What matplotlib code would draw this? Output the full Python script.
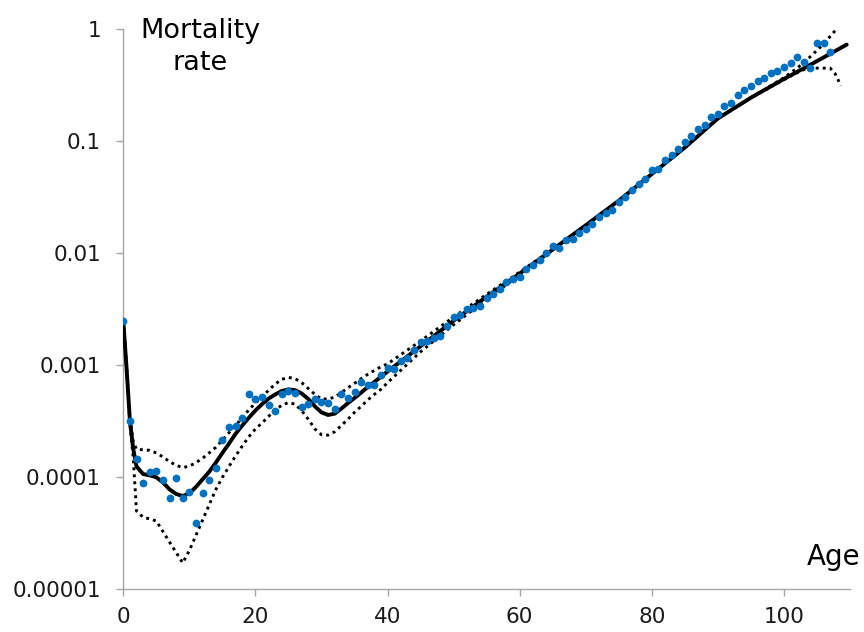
import matplotlib
matplotlib.use("Agg")
import matplotlib.pyplot as plt
from matplotlib.ticker import FixedLocator, FixedFormatter, NullLocator

# Observed death rates by single year of age
ages = list(range(0, 108))
observed = [
    0.0025, 0.000318, 0.000147, 0.000089, 0.000111, 0.000115, 0.0000955, 0.0000648,
    0.000098, 0.0000648, 0.000074, 0.000039, 0.0000725, 0.000094, 0.000122, 0.000214,
    0.000279, 0.000285, 0.000336, 0.000552, 0.0005, 0.000523, 0.000446, 0.000389,
    0.000552, 0.000589, 0.000563, 0.000423, 0.000454, 0.000505, 0.000467, 0.000457,
    0.00041, 0.000552, 0.000511, 0.000573, 0.000706, 0.000665, 0.00067, 0.000815,
    0.000944, 0.000918, 0.0011, 0.00116, 0.00136, 0.00163, 0.00166, 0.00175,
    0.00184, 0.00226, 0.00268, 0.00283, 0.00318, 0.00325, 0.0034, 0.00396,
    0.00433, 0.0048, 0.0055, 0.00589, 0.0061, 0.00722, 0.00784, 0.00874,
    0.0100, 0.0116, 0.01125, 0.01315, 0.01355, 0.0153, 0.0164, 0.0182,
    0.0212, 0.0230, 0.0243, 0.0290, 0.0318, 0.0366, 0.0418, 0.0456,
    0.0552, 0.0571, 0.0678, 0.0762, 0.0856, 0.098, 0.1124, 0.129,
    0.141, 0.165, 0.176, 0.205, 0.222, 0.257, 0.288, 0.313,
    0.342, 0.366, 0.406, 0.42, 0.465, 0.498, 0.57, 0.515,
    0.45, 0.76, 0.75, 0.632,
]

# Smoothed mortality curve
fit_ages = [0, 0.5, 1, 1.5, 2] + list(range(3, 41)) + list(range(45, 106, 5)) + [109.5]
fit_rate = [
    0.0025, 0.00093, 0.00032, 0.00018, 0.000125,
    0.000107, 0.000104, 0.000100, 0.000090, 0.000078, 0.000071, 0.000068, 0.000072,
    0.000082, 0.000096, 0.000112, 0.000135, 0.000165, 0.0002, 0.000245, 0.00029,
    0.00034, 0.000395, 0.00045, 0.000505, 0.00055, 0.00059, 0.00061, 0.0006,
    0.00056, 0.0005, 0.00043, 0.00038, 0.00036, 0.00037, 0.00041, 0.00046,
    0.00051, 0.00057, 0.00064, 0.00071, 0.00079, 0.00088,
    0.00148, 0.0025, 0.0041, 0.0066, 0.0108, 0.0178, 0.0295, 0.051,
    0.088, 0.16, 0.245, 0.36, 0.52, 0.73,
]

# Upper confidence bound
upper_ages = [0, 0.5, 1, 1.5, 2] + list(range(3, 41)) + list(range(45, 101, 5)) + [102, 104, 106, 107.6, 108.6]
upper_rate = [
    0.0025, 0.00095, 0.00034, 0.00021, 0.000178,
    0.000176, 0.000174, 0.000165, 0.000152, 0.000138, 0.000128, 0.000122, 0.000126,
    0.000135, 0.000148, 0.000165, 0.000185, 0.000215, 0.00025, 0.00029, 0.00034,
    0.0004, 0.00046, 0.00052, 0.0006, 0.00068, 0.00075, 0.00078, 0.00076,
    0.0007, 0.00062, 0.00055, 0.0005, 0.0005, 0.00052, 0.00057, 0.00063,
    0.00069, 0.00076, 0.00083, 0.0009, 0.00097, 0.00103,
    0.00165, 0.0027, 0.0043, 0.0068, 0.0109, 0.0178, 0.0295, 0.051,
    0.088, 0.16, 0.245, 0.37,
    0.45, 0.57, 0.74, 0.95, 1.09,
]

# Lower confidence bound
lower_ages = [0, 0.5, 1, 1.5, 2] + list(range(3, 41)) + list(range(45, 101, 5)) + [102, 103.5, 107, 107.7, 108.2, 108.6]
lower_rate = [
    0.0025, 0.00091, 0.0003, 0.00015, 0.00005,
    0.000044, 0.0000425, 0.0000407, 0.0000328, 0.0000264, 0.0000213, 0.0000172, 0.0000222,
    0.0000304, 0.0000415, 0.0000568, 0.0000776, 0.0001, 0.000125, 0.000155, 0.00019,
    0.00023, 0.00027, 0.000306, 0.00035, 0.0004, 0.00044, 0.000465, 0.00045,
    0.000393, 0.00033, 0.00027, 0.00024, 0.000238, 0.000255, 0.00029, 0.00033,
    0.00038, 0.00043, 0.00049, 0.00055, 0.00061, 0.0007,
    0.00132, 0.0023, 0.0039, 0.0064, 0.0107, 0.0178, 0.0295, 0.051,
    0.088, 0.16, 0.245, 0.355,
    0.41, 0.45, 0.45, 0.406, 0.354, 0.313,
]

x_ticks = [0, 20, 40, 60, 80, 100]
y_ticks = [0.00001, 0.0001, 0.001, 0.01, 0.1, 1]
y_tick_labels = ["0.00001", "0.0001", "0.001", "0.01", "0.1", "1"]

plt.rcParams["font.family"] = ["DejaVu Sans"]

fig = plt.figure(figsize=(8.64, 6.32), dpi=100)
ax = fig.add_axes([123.3 / 864, (632 - 589.3) / 632, (850 - 123.3) / 864, (589.3 - 29.3) / 632])

band_style = dict(color="black", linewidth=2.1, linestyle=(0, (1, 1.4)),
                  dash_capstyle="butt", zorder=2)
ax.plot(upper_ages, upper_rate, **band_style)
ax.plot(lower_ages, lower_rate, **band_style)
ax.plot(fit_ages, fit_rate, color="black", linewidth=2.8, solid_capstyle="round", zorder=3)
ax.plot(ages, observed, linestyle="none", marker="o", markersize=5.6,
        markerfacecolor="#0070C0", markeredgecolor="#0070C0", markeredgewidth=0, zorder=4)

ax.set_yscale("log")
ax.set_xlim(0, 110)
ax.set_ylim(1e-5, 1)

ax.xaxis.set_major_locator(FixedLocator(x_ticks))
ax.xaxis.set_minor_locator(NullLocator())
ax.yaxis.set_major_locator(FixedLocator(y_ticks))
ax.yaxis.set_major_formatter(FixedFormatter(y_tick_labels))
ax.yaxis.set_minor_locator(NullLocator())

for side in ("top", "right"):
    ax.spines[side].set_visible(False)
for side in ("left", "bottom"):
    ax.spines[side].set_color("#a6a6a6")
    ax.spines[side].set_linewidth(1.0)

ax.tick_params(axis="both", which="major", direction="out", length=5, width=1.0,
               color="#a6a6a6", labelsize=15.5, labelcolor="#1a1a1a")
ax.tick_params(axis="y", pad=11)
ax.tick_params(axis="x", pad=8)

fig.text(200 / 864, 1 - 70 / 632, "Mortality\nrate", ha="center", va="baseline",
         fontsize=19.5, color="black", linespacing=1.3)
fig.text(860 / 864, 1 - 565 / 632, "Age", ha="right", va="baseline",
         fontsize=20, color="black")

fig.savefig("out.png", dpi=100)
